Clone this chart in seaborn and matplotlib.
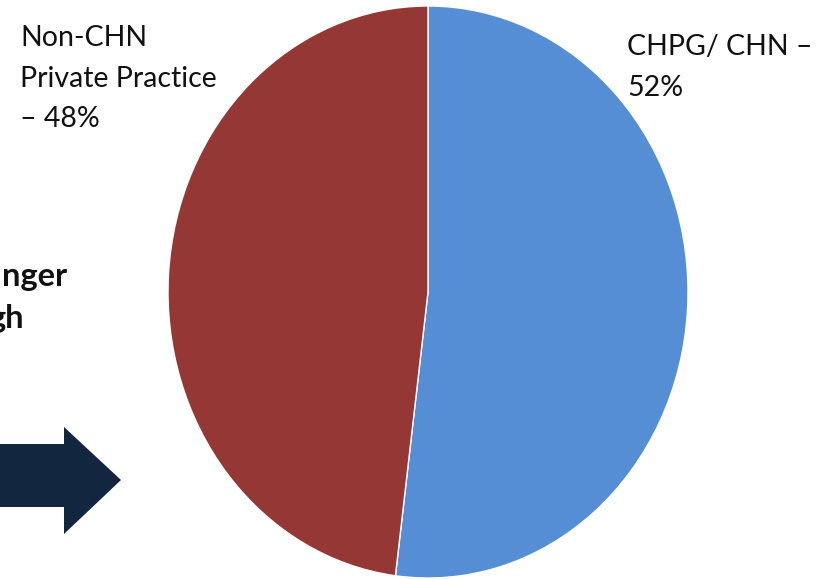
import matplotlib
matplotlib.use("Agg")
import matplotlib.pyplot as plt
import seaborn as sns
from matplotlib.patches import Polygon

# data
labels = ["CHPG/ CHN", "Non-CHN Private Practice"]
shares = [52, 48]
colors = ["#558ED5", "#953735"]

sns.set_theme(style="white")
plt.rcParams['font.family'] = ['Lato', 'DejaVu Sans']

W, H = 825, 579
fig = plt.figure(figsize=(W / 100, H / 100), dpi=100)
fig.patch.set_facecolor("white")

# pie is stretched vertically in the slide, so aspect is left free
ax = fig.add_axes([168 / W, 1 / H, 520 / W, 572 / H])
ax.pie(shares, colors=colors, startangle=90, counterclock=False,
       wedgeprops=dict(edgecolor="white", linewidth=1))
ax.set_aspect("auto")
ax.set_xlim(-1, 1)
ax.set_ylim(-1, 1)
ax.axis("off")

fs = 20.5
fig.text(20 / W, 1 - 25 / H, "Non-CHN\nPrivate Practice\n\u2013 " + f"{shares[1]}%",
         ha="left", va="top", fontsize=fs, color="#111111", linespacing=1.7)
fig.text(627 / W, 1 - 34 / H, "CHPG/ CHN \u2013\n" + f"{shares[0]}%",
         ha="left", va="top", fontsize=fs, color="#111111", linespacing=1.7)

# cut-off bold text from the slide
fig.text(67 / W, 1 - 286 / H, "nger", ha="right", va="baseline",
         fontsize=23.5, fontweight="bold", color="#111111")
fig.text(24 / W, 1 - 328 / H, "gh", ha="right", va="baseline",
         fontsize=23.5, fontweight="bold", color="#111111")

# navy arrow
pts = [(0, 444), (64, 444), (64, 427), (121, 480), (64, 534), (64, 507), (0, 507)]
arrow = Polygon([(x / W, 1 - y / H) for x, y in pts], closed=True,
                transform=fig.transFigure, facecolor="#13263F", edgecolor="none")
fig.patches.append(arrow)

fig.savefig("out.png", dpi=100)
